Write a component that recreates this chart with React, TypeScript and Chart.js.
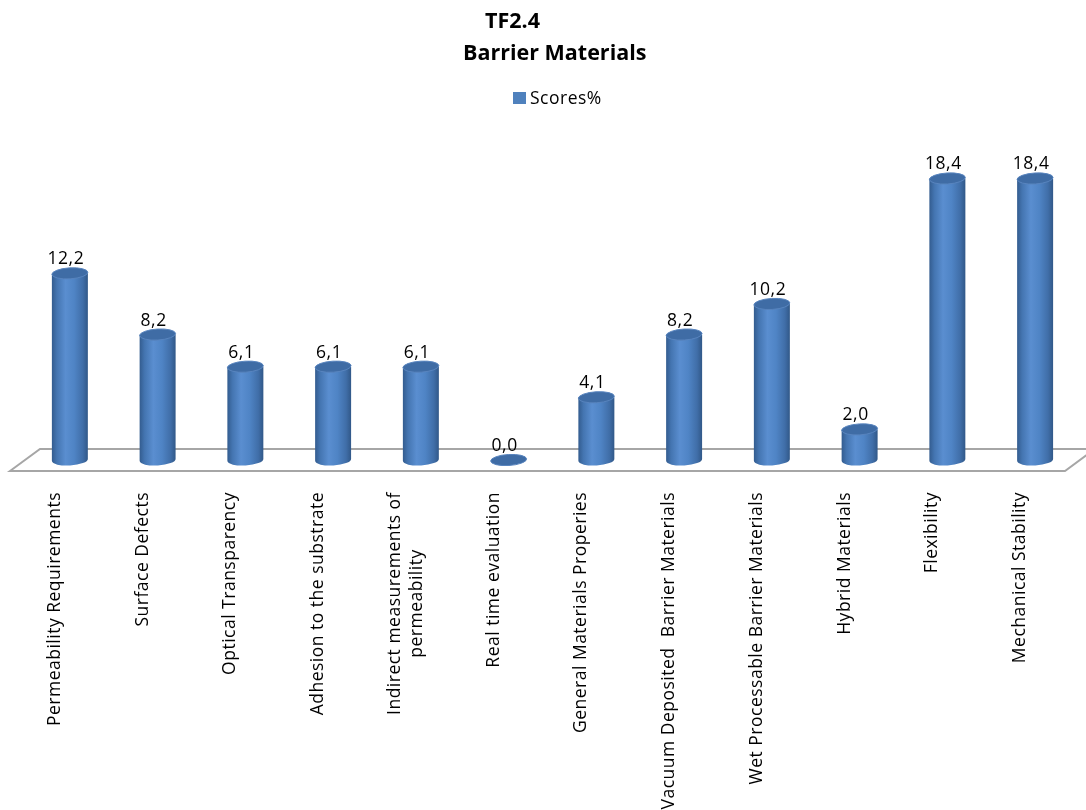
import React, { useEffect, useRef } from "react";
import { Chart, registerables } from "chart.js";

Chart.register(...registerables);

// ---- data -------------------------------------------------------------
const titleLines = ["TF2.4", "Barrier Materials"];
const seriesName = "Scores%";
const categories: (string | string[])[] = [
  "Permeability Requirements",
  "Surface Defects",
  "Optical Transparency",
  "Adhesion to the substrate",
  ["Indirect measurements of", "permeability"],
  "Real time evaluation",
  "General Materials Properies",
  "Vacuum Deposited  Barrier Materials",
  "Wet Processable Barrier Materials",
  "Hybrid Materials",
  "Flexibility",
  "Mechanical Stability",
];
const scores = [12.2, 8.2, 6.1, 6.1, 6.1, 0.0, 4.1, 8.2, 10.2, 2.0, 18.4, 18.4];
const yMin = 0;
const yMax = 20;

// ---- look -------------------------------------------------------------
const FONT = '"Open Sans", "DejaVu Sans", sans-serif';
const TEXT_FONT = `17.5px ${FONT}`;
const TEXT_SPACING = 0.5;
const BAR_BLUE = "#4f81bd";
const FLOOR_DEPTH = 11; // half depth of the floor plane, px
const FLOOR_SKEW = 15; // horizontal shift between front and back edge, px
const LABEL_SHIFT = -15; // category labels sit on the front edge of the floor
const CYL_RY = 5.5; // vertical radius of the cylinder caps
const CYL_TILT = -0.06;

const formatValue = (v: number) => v.toFixed(1).replace(".", ",");

const setSpacing = (ctx: CanvasRenderingContext2D, px: number) => {
  (ctx as any).letterSpacing = `${px}px`;
};

const cylinderPlugin = {
  id: "cylinderBars",
  beforeDatasetsDraw(chart: Chart) {
    const { ctx, chartArea, scales } = chart;
    const y0 = scales.y.getPixelForValue(0);
    const { left, right } = chartArea;
    ctx.save();
    ctx.beginPath();
    ctx.moveTo(left - FLOOR_SKEW - 1, y0 + FLOOR_DEPTH);
    ctx.lineTo(left + FLOOR_SKEW - 1, y0 - FLOOR_DEPTH);
    ctx.lineTo(right + FLOOR_SKEW + 1, y0 - FLOOR_DEPTH);
    ctx.lineTo(right - FLOOR_SKEW + 1, y0 + FLOOR_DEPTH);
    ctx.closePath();
    ctx.fillStyle = "#ffffff";
    ctx.fill();
    ctx.strokeStyle = "#a6a6a6";
    ctx.lineWidth = 2;
    ctx.stroke();
    ctx.restore();
  },
  afterDatasetsDraw(chart: Chart) {
    const { ctx } = chart;
    const meta = chart.getDatasetMeta(0);
    ctx.save();
    meta.data.forEach((el: any, i: number) => {
      const { x, y, base, width } = el.getProps(["x", "y", "base", "width"], true);
      const r = width / 2;
      if (base - y > 0.5) {
        const grad = ctx.createLinearGradient(x - r, 0, x + r, 0);
        grad.addColorStop(0, "#335c8f");
        grad.addColorStop(0.14, "#4475b1");
        grad.addColorStop(0.38, "#5a8ed0");
        grad.addColorStop(0.62, "#4f84c5");
        grad.addColorStop(0.86, "#406ea8");
        grad.addColorStop(1, "#315888");
        ctx.beginPath();
        ctx.moveTo(x - r, y);
        ctx.lineTo(x - r, base);
        ctx.ellipse(x, base, r, CYL_RY, CYL_TILT, Math.PI, 0, true);
        ctx.lineTo(x + r, y);
        ctx.closePath();
        ctx.fillStyle = grad;
        ctx.fill();
      }
      // top cap
      ctx.beginPath();
      ctx.ellipse(x, y, r, CYL_RY, CYL_TILT, 0, Math.PI * 2);
      ctx.fillStyle = "#3f6ca5";
      ctx.fill();
      ctx.strokeStyle = "#5884be";
      ctx.lineWidth = 1;
      ctx.stroke();

      // value label
      ctx.fillStyle = "#000000";
      ctx.font = TEXT_FONT;
      setSpacing(ctx, TEXT_SPACING);
      ctx.textAlign = "center";
      ctx.textBaseline = "alphabetic";
      ctx.fillText(formatValue(scores[i]), x - 4, y - 9);
    });
    ctx.restore();
  },
  afterDraw(chart: Chart) {
    const { ctx, scales, chartArea } = chart;
    const xScale = scales.x;
    ctx.save();
    ctx.fillStyle = "#000000";

    // title
    ctx.font = `bold 21.5px ${FONT}`;
    setSpacing(ctx, 0);
    ctx.textAlign = "left";
    ctx.textBaseline = "alphabetic";
    ctx.fillText(titleLines[0], 485, 28);
    ctx.fillText(titleLines[1], 463, 60);

    // legend
    ctx.fillStyle = BAR_BLUE;
    ctx.fillRect(513, 92, 13, 12);
    ctx.fillStyle = "#000000";
    ctx.font = TEXT_FONT;
    setSpacing(ctx, TEXT_SPACING);
    ctx.fillText(seriesName, 530, 104);

    // category labels, rotated, hanging from the floor
    const labelTop = chartArea.bottom + 32;
    const lineHeight = 22;
    categories.forEach((label, i) => {
      const tx = xScale.getPixelForValue(i) + LABEL_SHIFT;
      const lines = Array.isArray(label) ? label : [label];
      ctx.save();
      ctx.translate(tx, labelTop);
      ctx.rotate(-Math.PI / 2);
      ctx.textBaseline = "middle";
      if (lines.length === 1) {
        ctx.textAlign = "right";
        ctx.fillText(lines[0], 0, 0);
      } else {
        const widest = Math.max(...lines.map((l) => ctx.measureText(l).width));
        ctx.textAlign = "center";
        lines.forEach((l, k) => {
          const off = (k - (lines.length - 1) / 2) * lineHeight;
          ctx.fillText(l, -widest / 2, off);
        });
      }
      ctx.restore();
    });
    ctx.restore();
  },
};

export default function App() {
  const canvasRef = useRef<HTMLCanvasElement | null>(null);

  useEffect(() => {
    const canvas = canvasRef.current;
    if (!canvas) return;
    const chart = new Chart(canvas, {
      type: "bar",
      data: {
        labels: categories.map((c) => (Array.isArray(c) ? c.join(" ") : c)),
        datasets: [
          {
            label: seriesName,
            data: scores,
            backgroundColor: "rgba(0,0,0,0)",
            borderWidth: 0,
            barThickness: 36,
          },
        ],
      },
      options: {
        responsive: false,
        animation: false,
        devicePixelRatio: 1,
        layout: { padding: { left: 26, right: 7, top: 154, bottom: 350 } },
        plugins: {
          legend: { display: false },
          title: { display: false },
          tooltip: { enabled: false },
        },
        scales: {
          x: { display: false },
          y: { display: false, min: yMin, max: yMax },
        },
      },
      plugins: [cylinderPlugin],
    });
    return () => chart.destroy();
  }, []);

  return (
    <div style={{ position: "absolute", left: 0, top: 0, width: 1086, height: 810, background: "#ffffff" }}>
      <canvas ref={canvasRef} width={1086} height={810} style={{ display: "block" }} />
    </div>
  );
}
